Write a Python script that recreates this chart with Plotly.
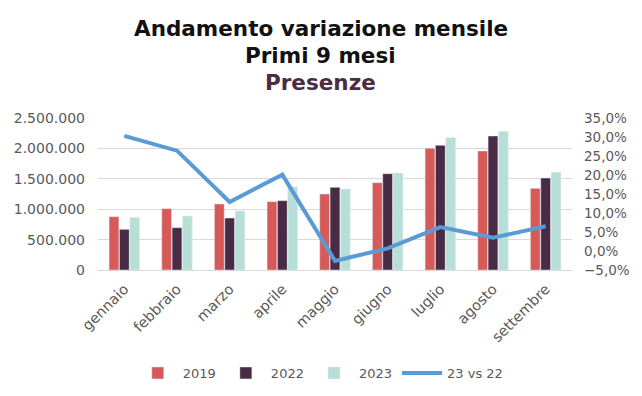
import plotly.graph_objects as go

mesi = ["gennaio", "febbraio", "marzo", "aprile", "maggio", "giugno", "luglio", "agosto", "settembre"]
v2019 = [877000, 1009000, 1086000, 1124000, 1250000, 1436000, 2001000, 1957000, 1343000]
v2022 = [669000, 696000, 855000, 1140000, 1360000, 1584000, 2051000, 2204000, 1513000]
v2023 = [866000, 888000, 970000, 1370000, 1332000, 1595000, 2176000, 2281000, 1607000]
var_23_22 = [0.303, 0.264, 0.129, 0.201, -0.026, 0.007, 0.063, 0.035, 0.065]

title_lines = ["Andamento variazione mensile", "Primi 9 mesi", "Presenze"]

FONT = "DejaVu Sans"
GREY = "#595959"

fig = go.Figure()
fig.add_trace(go.Bar(x=mesi, y=v2019, name="2019", marker_color="#D65B58"))
fig.add_trace(go.Bar(x=mesi, y=v2022, name="2022", marker_color="#482C45"))
fig.add_trace(go.Bar(x=mesi, y=v2023, name="2023", marker_color="#B7DFD7"))
fig.add_trace(go.Scatter(x=mesi, y=var_23_22, name="23 vs 22", mode="lines",
                         line=dict(color="#5B9BD5", width=4), yaxis="y2"))

title_y = [(270 - 28) / 152, (270 - 55) / 152, (270 - 83) / 152]
title_col = ["#111111", "#111111", "#4A2D45"]
for txt, yy, cc in zip(title_lines, title_y, title_col):
    fig.add_annotation(text="<b>%s</b>" % txt, xref="paper", yref="paper",
                       x=0.470, y=yy, xanchor="center", yanchor="middle",
                       showarrow=False, font=dict(family=FONT, size=21.5, color=cc))

# the page body adds an 8px margin, so the figure is 8px smaller and offsets shifted
fig.update_layout(
    width=634, height=388,
    margin=dict(l=90, r=70, t=110, b=126),
    paper_bgcolor="white", plot_bgcolor="white",
    separators=",.",
    barmode="group", bargap=0.41, bargroupgap=0.05,
    font=dict(family=FONT, color=GREY, size=14),
    xaxis=dict(tickangle=-45, tickfont=dict(size=14.5, color=GREY), showline=True,
               linecolor="#d9d9d9", ticks="", automargin=False, ticklabelstandoff=4),
    yaxis=dict(range=[0, 2500000], dtick=500000, tickformat=",.0f", automargin=False,
               gridcolor="#d9d9d9", zeroline=False, tickfont=dict(size=14, color=GREY),
               ticklabelstandoff=12),
    yaxis2=dict(overlaying="y", side="right", range=[-0.05, 0.35], dtick=0.05,
                tickformat=".1%", showgrid=False, zeroline=False, automargin=False,
                tickfont=dict(size=13.5, color=GREY), ticklabelstandoff=11),
    legend=dict(orientation="h", x=0.47, xanchor="center", yref="container",
                y=1 - 365 / 388, yanchor="middle", itemwidth=40,
                font=dict(size=13, color=GREY)),
)

fig.write_html("out.html")
